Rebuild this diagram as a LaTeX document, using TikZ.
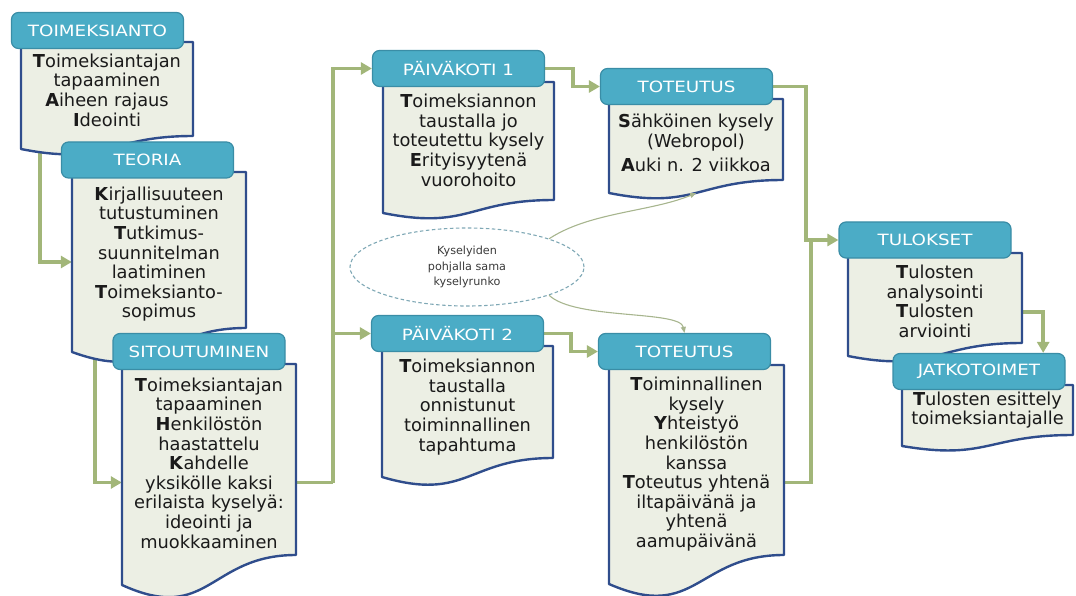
\documentclass[tikz,border=0pt]{standalone}
\usepackage{fontspec}
\setmainfont{DejaVu Sans}
\newfontfamily\hdrfont[FakeStretch=1.18]{DejaVu Sans}
\usetikzlibrary{shapes.geometric,arrows.meta,calc}
\definecolor{hdrfill}{HTML}{4BACC6}
\definecolor{hdrdraw}{HTML}{3A8DA6}
\definecolor{bodyfill}{HTML}{ECEFE4}
\definecolor{bodydraw}{HTML}{2F4D8C}
\definecolor{conncol}{HTML}{A2B679}
\definecolor{thincol}{HTML}{A7B58E}
\definecolor{ellcol}{HTML}{7FA8B5}
\definecolor{txt}{HTML}{1A1A1A}
\definecolor{eltext}{HTML}{3A3A3A}
\tikzset{
 hdr/.style={draw=hdrdraw, line width=1.2pt, fill=hdrfill, rounded corners=7pt,
   minimum width=172pt, minimum height=36pt, inner sep=0pt, text=white,
   font=\hdrfont\fontsize{15.5}{18}\selectfont},
 bodysh/.style={fill=bodyfill, draw=bodydraw, line width=2.4pt, line join=round},
 btext/.style={anchor=north, align=center, inner sep=0pt, text=txt,
   font=\fontsize{17.8}{19.6}\selectfont},
 conn/.style={draw=conncol, line width=3.8pt, -{Triangle[length=11pt,width=12pt]}},
 connplain/.style={draw=conncol, line width=3.8pt},
 thinarrow/.style={draw=thincol, line width=1.1pt, -{Triangle[length=6pt,width=5pt]}},
}
\newcommand\docbox[6]{%
 \filldraw[bodysh] (#2,#4) -- (#3,#4) -- (#3,#5) .. controls ({(#2+#3)/2},#5) and ({(#2+#3)/2},{#6+1.32*(#6-#5)}) .. (#2,#6) -- cycle;
 \node[inner sep=0pt, minimum width={(#3-#2)*1pt}, minimum height={(#6-#4)*1pt}] (#1) at ({(#2+#3)/2},{(#4+#6)/2}) {};
}
\begin{document}
\begin{tikzpicture}[x=1pt,y=-1pt]
\useasboundingbox (0,0) rectangle (1076,596);
\pgfdeclarelayer{back}
\pgfsetlayers{back,main}

% TOIMEKSIANTO
\docbox{b1}{21}{193}{42}{136}{149}
\node[hdr] (h1) at (97.5,30.5) {TOIMEKSIANTO};
\node[btext] (t1) at (107,53.5) {\textbf{T}oimeksiantajan\\tapaaminen\\\textbf{A}iheen rajaus\\\textbf{I}deointi};

% TEORIA
\docbox{b2}{72}{246}{172}{328}{352}
\node[hdr] (h2) at (147.5,160) {TEORIA};
\node[btext] (t2) at (159,186.5) {\textbf{K}irjallisuuteen\\tutustuminen\\\textbf{T}utkimus-\\suunnitelman\\laatiminen\\\textbf{T}oimeksianto-\\sopimus};

% SITOUTUMINEN
\docbox{b3}{122}{296}{364}{555}{585}
\node[hdr] (h3) at (199,351.5) {SITOUTUMINEN};
\node[btext] (t3) at (209,377.5) {\textbf{T}oimeksiantajan\\tapaaminen\\\textbf{H}enkilöstön\\haastattelu\\\textbf{K}ahdelle\\yksikölle kaksi\\erilaista kyselyä:\\ideointi ja\\muokkaaminen};

% PÄIVÄKOTI 1
\docbox{b4}{383}{554}{82}{200}{213}
\node[hdr] (h4) at (458.5,68.5) {PÄIVÄKOTI 1};
\node[btext] (t4) at (468.5,94) {\textbf{T}oimeksiannon\\taustalla jo\\toteutettu kysely\\\textbf{E}rityisyytenä\\vuorohoito};

% TOTEUTUS 1
\docbox{b5}{609}{783}{99}{180}{193}
\node[hdr] (h5) at (686.5,86.5) {TOTEUTUS};
\node[btext] (t5) at (696,114) {\textbf{S}ähköinen kysely\\(Webropol)\\[5pt]\textbf{A}uki n. 2 viikkoa};

% PÄIVÄKOTI 2
\docbox{b6}{382}{553}{346}{458}{477}
\node[hdr] (h6) at (457.5,333.5) {PÄIVÄKOTI 2};
\node[btext] (t6) at (467.5,359) {\textbf{T}oimeksiannon\\taustalla\\onnistunut\\toiminnallinen\\tapahtuma};

% TOTEUTUS 2
\docbox{b7}{609}{784}{365}{555}{584}
\node[hdr] (h7) at (684.5,351.5) {TOTEUTUS};
\node[btext] (t7) at (696.5,377) {\textbf{T}oiminnallinen\\kysely\\\textbf{Y}hteistyö\\henkilöstön\\kanssa\\\textbf{T}oteutus yhtenä\\iltapäivänä ja\\yhtenä\\aamupäivänä};

% TULOKSET
\docbox{b8}{848}{1022}{253}{343}{356}
\node[hdr] (h8) at (925,240) {TULOKSET};
\node[btext] (t8) at (935,265) {\textbf{T}ulosten\\analysointi\\\textbf{T}ulosten\\arviointi};

% JATKOTOIMET
\docbox{b9}{902}{1073}{385}{435}{446}
\node[hdr] (h9) at (979,371.5) {JATKOTOIMET};
\node[btext] (t9) at (987.5,391.5) {\textbf{T}ulosten esittely\\toimeksiantajalle};

% connectors (behind the boxes)
\begin{pgfonlayer}{back}
\draw[conn] ([xshift=19pt]b1.south west) |- (b2.west);
\draw[conn] ([xshift=23pt]b2.south west) |- ([yshift=-8pt]b3.west);
\draw[connplain] ([yshift=-8pt]b3.east) -- ++(37,0) coordinate (j1);
\draw[conn] (j1) |- (h4.west);
\draw[conn] (j1) |- (h6.west);
\draw[conn] (h4.east) -- ++(28,0) |- (h5.west);
\draw[conn] (h6.east) -- ++(27,0) |- (h7.west);
\draw[conn] (h5.east) -- ++(33,0) |- (h8.west);
\draw[connplain] ([yshift=-8pt]b7.east) -- ++(27,0) coordinate (j2) -- (j2 |- h8.west);
\draw[conn] ([yshift=-7.5pt]b8.east) -- ++(21,0) coordinate (j3) -- (j3 |- h9.north);
\end{pgfonlayer}

% ellipse note
\node[ellipse, draw=ellcol, dash pattern=on 3.5pt off 2.5pt, line width=1.1pt,
  minimum width=234pt, minimum height=78pt, inner sep=0pt, align=center,
  font=\fontsize{11.2}{15.5}\selectfont, text=eltext] (el) at (467,267)
  {Kyselyiden\\pohjalla sama\\kyselyrunko};
\draw[thinarrow] (el.19) .. controls (590,212) and (650,212) .. (b5.south);
\draw[thinarrow] (el.-19) .. controls (575,320) and (680,310) .. (h7.north);
\end{tikzpicture}
\end{document}
